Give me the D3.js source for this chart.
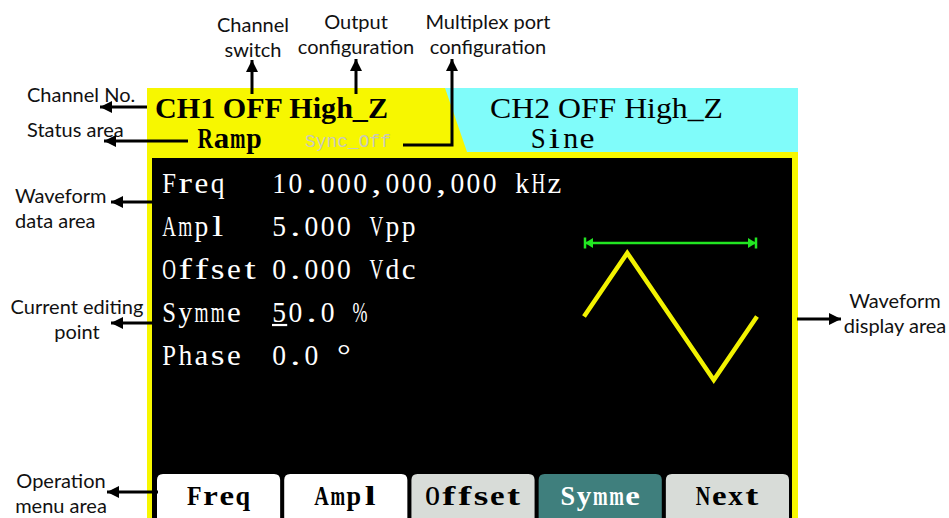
<!DOCTYPE html>
<html>
<head>
<meta charset="utf-8">
<script src="https://cdn.jsdelivr.net/npm/d3@7.9.0/dist/d3.min.js"></script>
<style>
  html, body { margin: 0; padding: 0; background: #fff; }
  svg { display: block; }
  .note { font-family: Lato, "Open Sans", sans-serif; font-size: 20px; fill: #111; }
  .lcd { font-family: "Liberation Serif", "DejaVu Serif", serif; }
</style>
</head>
<body>
<div id="chart"></div>
<script>
// ---- screen content ----
const channelNames = ['CH1', 'CH2'];
const channelState = ['OFF', 'OFF'];
const channelLoad = ['High_Z', 'High_Z'];
const channelWave = ['Ramp', 'Sine'];
const syncLabel = 'Sync_Off';

const paramLabels = ['Freq', 'Ampl', 'Offset', 'Symme', 'Phase'];
const paramValues = ['10.000,000,000 kHz', '5.000 Vpp', '0.000 Vdc', '50.0 %', '0.0 °'];
const editingParam = 'Symme';   // cursor sits under first digit

const menuItems = ['Freq', 'Ampl', 'Offset', 'Symme', 'Next'];
const menuKind = ['white', 'white', 'gray', 'active', 'gray'];

// ramp at 50% symmetry, one period (phase 0..1, level -1..1)
const wavePhase = [0, 0.25, 0.75, 1];
const waveLevel = [0, 1, -1, 0];

// ---- callouts ----
const notes = [
  { lines: ['Channel No.'], x: 27, y: 102, anchor: 'start', arrow: [[147, 107], [100, 107]] },
  { lines: ['Status area'], x: 27, y: 137, anchor: 'start', arrow: [[188, 141], [104, 141]] },
  { lines: ['Channel', 'switch'], x: 253, y: 32, anchor: 'middle', arrow: [[252, 94], [252, 60]] },
  { lines: ['Output', 'configuration'], x: 356, y: 29, anchor: 'middle', arrow: [[356, 94], [356, 59]] },
  { lines: ['Multiplex port', 'configuration'], x: 488, y: 29, anchor: 'middle', arrow: [[403, 145], [452, 145], [452, 59]] },
  { lines: ['Waveform', 'data area'], x: 15, y: 203, anchor: 'start', arrow: [[153, 202], [111, 202]] },
  { lines: ['Current  editing', 'point'], x: 77, y: 314, anchor: 'middle', arrow: [[153, 323], [111, 323]] },
  { lines: ['Waveform', 'display area'], x: 895, y: 308, anchor: 'middle', arrow: [[797, 319], [841, 319]] },
  { lines: ['Operation', 'menu area'], x: 61, y: 488, anchor: 'middle', arrow: [[158, 492], [107, 492]] },
];

const width = 949, height = 518;
const cell = 16.2;           // LCD font is monospaced
const YELLOW = '#f7f700', CYAN = '#80fcfa';

const svg = d3.select('#chart').append('svg')
  .attr('width', width).attr('height', height)
  .attr('viewBox', `0 0 ${width} ${height}`);

svg.append('defs').append('marker')
  .attr('id', 'head')
  .attr('viewBox', '0 0 10 10')
  .attr('markerUnits', 'userSpaceOnUse')
  .attr('markerWidth', 13).attr('markerHeight', 12)
  .attr('refX', 10).attr('refY', 5)
  .attr('orient', 'auto')
  .append('path').attr('d', 'M0,0 L10,5 L0,10 Z').attr('fill', '#000');

/* ---------- screen frame ---------- */
const screen = { left: 147, right: 798, top: 88, bottom: 530 };
const inner = { left: 152, right: 792, top: 158, bottom: 530 };

svg.append('rect')
  .attr('x', screen.left).attr('y', screen.top)
  .attr('width', screen.right - screen.left).attr('height', screen.bottom - screen.top)
  .attr('fill', YELLOW);

svg.append('path')
  .attr('d', `M445,${screen.top} L${screen.right},${screen.top} L${screen.right},152 L467,152 Z`)
  .attr('fill', CYAN);

svg.append('rect')
  .attr('x', inner.left).attr('y', inner.top)
  .attr('width', inner.right - inner.left).attr('height', inner.bottom - inner.top)
  .attr('fill', '#000');

// proportional LCD text squeezed to a width
function lcdText(g, str, x, y, opts = {}) {
  return g.append('text')
    .attr('class', 'lcd')
    .attr('x', x).attr('y', y)
    .attr('font-size', opts.size || 29)
    .attr('font-weight', opts.bold ? 'bold' : 'normal')
    .attr('fill', opts.fill || '#000')
    .attr('textLength', opts.len)
    .attr('lengthAdjust', 'spacingAndGlyphs')
    .text(str);
}

// monospaced LCD text: every glyph centred in its own cell and stretched to fill it
function monoText(g, str, x, y, opts = {}) {
  const c = opts.cell || cell;
  const fill = opts.fillRatio || 0.85;
  const grp = g.append('g');
  [...str].forEach((ch, i) => {
    if (ch === ' ') return;
    const t = grp.append('text')
      .attr('class', 'lcd')
      .attr('font-size', opts.size || 29)
      .attr('font-weight', opts.bold ? 'bold' : 'normal')
      .attr('fill', opts.fill || '#fff')
      .attr('text-anchor', 'middle')
      .text(ch);
    const w = t.node().getComputedTextLength() || 1;
    const s = Math.max(0.62, Math.min(opts.maxStretch || 1.4, (c * fill) / w));
    t.attr('transform', `translate(${x + i * c + c / 2},${y}) scale(${s},1)`);
  });
  return grp;
}

/* ---------- status header ---------- */
const header = svg.append('g');
const headX = [155, 490];
channelNames.forEach((ch, i) => {
  const line = `${ch} ${channelState[i]} ${channelLoad[i]}`;
  lcdText(header, line, headX[i], 118, { bold: i === 0, size: 29, len: 233 });
});
monoText(header, channelWave[0], 197, 148, { bold: true, size: 29, cell: 16.3, fill: '#000', fillRatio: 0.95 });
monoText(header, channelWave[1], 530, 148, { size: 29, cell: 16.3, fill: '#000', fillRatio: 0.92 });
header.append('text')
  .attr('x', 305).attr('y', 147)
  .attr('font-family', '"Liberation Mono", monospace')
  .attr('font-size', 19)
  .attr('fill', '#c8c8bc')
  .attr('textLength', 86).attr('lengthAdjust', 'spacingAndGlyphs')
  .text(syncLabel);

/* ---------- parameter rows ---------- */
const rowY = d3.scalePoint().domain(paramLabels).range([192.7, 365]);
const rows = svg.append('g');
paramLabels.forEach((lab, i) => {
  monoText(rows, lab, 161, rowY(lab), {});
  monoText(rows, paramValues[i], 271, rowY(lab), {});
});
rows.append('rect')
  .attr('x', 272).attr('y', rowY(editingParam) + 2)
  .attr('width', cell - 1).attr('height', 2.2)
  .attr('fill', '#fff');

/* ---------- waveform preview ---------- */
const wx = d3.scaleLinear().domain([0, 1]).range([584, 757]);
const wy = d3.scaleLinear().domain([-1, 1]).range([380, 253]);
const wave = svg.append('g');

const periodY = 243;
const GREEN = '#22e622';
wave.append('line')
  .attr('x1', wx(0) + 2).attr('x2', wx(1) - 2)
  .attr('y1', periodY).attr('y2', periodY)
  .attr('stroke', GREEN).attr('stroke-width', 2.5);
[[wx(0) + 1, 1], [wx(1) - 1, -1]].forEach(([x, dir]) => {
  wave.append('line')
    .attr('x1', x).attr('x2', x).attr('y1', periodY - 5.5).attr('y2', periodY + 5.5)
    .attr('stroke', GREEN).attr('stroke-width', 2.5);
  wave.append('path')
    .attr('d', `M${x},${periodY} L${x + dir * 8},${periodY - 5} L${x + dir * 8},${periodY + 5} Z`)
    .attr('fill', GREEN);
});

wave.append('path')
  .datum(d3.zip(wavePhase, waveLevel))
  .attr('d', d3.line().x(d => wx(d[0])).y(d => wy(d[1])))
  .attr('fill', 'none')
  .attr('stroke', '#f2f200')
  .attr('stroke-width', 4.5)
  .attr('stroke-linejoin', 'miter');

/* ---------- soft-key menu ---------- */
const tabX = d3.scaleBand().domain(menuItems).range([157, 789]).paddingInner(0.032);
const tabTop = 474, tabR = 6;
const tabFill = { white: '#ffffff', gray: '#d8dcd8', active: '#3f7f7d' };
const menu = svg.append('g');
menuItems.forEach((m, i) => {
  const x0 = tabX(m), x1 = x0 + tabX.bandwidth();
  menu.append('path')
    .attr('d', `M${x0},${height + 5} L${x0},${tabTop + tabR} Q${x0},${tabTop} ${x0 + tabR},${tabTop}
                L${x1 - tabR},${tabTop} Q${x1},${tabTop} ${x1},${tabTop + tabR} L${x1},${height + 5} Z`)
    .attr('fill', tabFill[menuKind[i]]);
  const c = 16.2;
  const cx = x0 + tabX.bandwidth() / 2 - (m.length * c) / 2;
  monoText(menu, m, cx, 505, {
    bold: true, size: 28, cell: c, fillRatio: 0.9,
    fill: menuKind[i] === 'active' ? '#fff' : '#000'
  });
});

/* ---------- callouts ---------- */
const ann = svg.append('g');
notes.forEach(n => {
  const t = ann.append('text').attr('class', 'note')
    .attr('text-anchor', n.anchor);
  n.lines.forEach((l, j) => {
    t.append('tspan').attr('x', n.x).attr('y', n.y + j * 25).text(l);
  });
  ann.append('path')
    .attr('d', d3.line()(n.arrow))
    .attr('fill', 'none').attr('stroke', '#000').attr('stroke-width', 3)
    .attr('marker-end', 'url(#head)');
});
</script>
</body>
</html>
